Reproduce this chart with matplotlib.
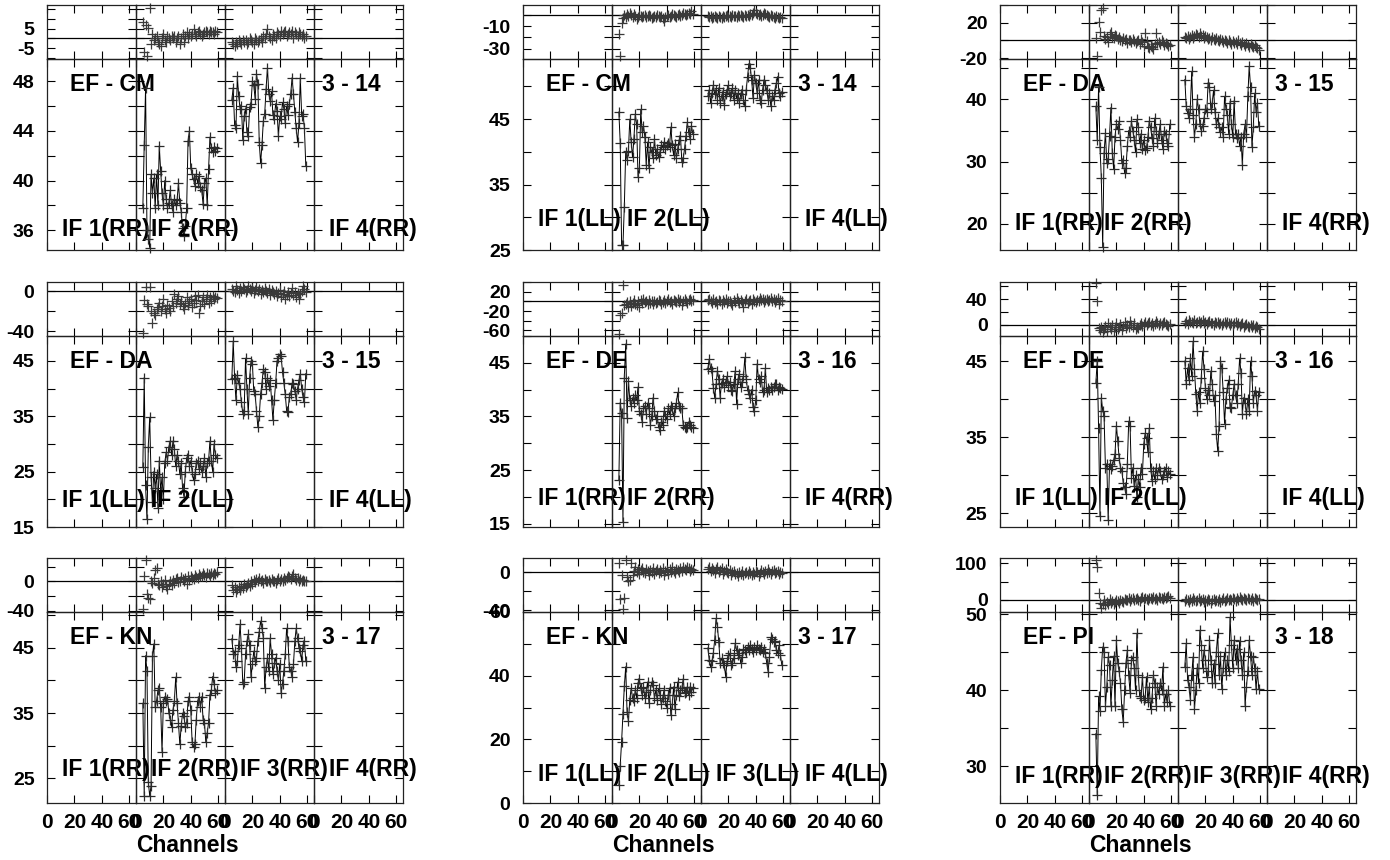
import numpy as np
import matplotlib
matplotlib.use('Agg')
import matplotlib.pyplot as plt
from matplotlib.ticker import MultipleLocator

plt.rcParams['font.family'] = 'Liberation Sans'
plt.rcParams['font.weight'] = 'bold'
plt.rcParams['axes.unicode_minus'] = False

# ---------------------------------------------------------------------
# Data: phase (deg) and amplitude per channel for IF 2 and IF 3
# (IF 1 and IF 4 carry no data). Channels start at 5 in each IF.
# ---------------------------------------------------------------------
first_chan = 5

# EF - CM (RR), scan 3 - 14
cm_rr_ph2 = [8.5, -7, 7, -9, 5.5, 15.5, -3, 2, -1, 0, 1, -2, -3, -4, 0, 2, -1, -2, 1, 0, -1, 1, 0, 1, -2, 0, 1, -3, 0, 2,
             -2, 1, 3, 0, 2, 1, 2, 5, 2, 1, 3, 4, 2, 1, 2, 3, 4, 3, 2, 4, 3, 3, 2, 4, 3]
cm_rr_ph3 = [-2, -3, -4, -2, -3, -1, -2, -3, -1, -2, -1, -3, -2, 0, -1, -2, -3, 0, -1, -2, -1, 0, -2, 1, 0, 2, 5, 1, 0, -1,
             2, 1, 0, 3, 2, 1, 4, 2, 3, 4, 1, 2, 3, 2, 4, 0, 3, 2, 1, 3, 2, 1, 2, 0, 1]
cm_rr_amp2 = [37.8, 42.9, 47.5, 36.0, 35.3, 34.6, 40.5, 39.0, 40.2, 37.8, 40.5, 38.0, 42.8, 40.8, 39.0, 38.0, 40.0, 38.5,
              37.8, 38.2, 39.2, 38.0, 37.5, 38.5, 38.0, 38.4, 39.8, 38.2, 37.5, 36.2, 35.5, 36.3, 37.8, 43.2, 44.0, 41.0,
              40.5, 40.1, 39.6, 40.5, 39.8, 40.4, 39.5, 39.2, 38.1, 39.8, 40.2, 38.0, 40.9, 43.5, 42.6, 42.3, 42.7, 42.4, 42.6]
cm_rr_amp3 = [46.5, 47.5, 44.5, 44.2, 48.4, 46.8, 45.8, 46.0, 43.3, 45.2, 45.8, 43.9, 43.6, 45.9, 46.2, 48.0, 47.7, 46.6,
              48.6, 47.8, 43.1, 41.4, 42.9, 44.8, 45.4, 47.4, 49.1, 47.0, 46.4, 47.2, 45.3, 45.0, 46.2, 45.6, 43.6, 45.2,
              45.0, 46.3, 45.8, 44.6, 46.0, 45.3, 46.2, 47.0, 48.3, 47.0, 45.5, 44.2, 43.1, 44.6, 48.3, 45.2, 45.4, 44.2, 41.2]

# EF - CM (LL), scan 3 - 14
cm_ll_ph2 = [-17, -36, -7, -3, 0, -2, 1, -1, 2, 0, -2, 1, -1, -4, -2, 0, -1, -2, -1, 0, -2, -1, 0, -1, -3, -2, -1, -2, 0, -1,
             -2, -1, -3, -5, -2, -1, 0, -2, -1, 1, 0, -1, -2, 0, 1, -1, 0, 2, 1, 0, 1, 2, 1, 3, 1]
cm_ll_ph3 = [-1, -2, -1, -3, -2, -1, -2, -3, -1, -2, -3, -1, -2, -1, 0, -2, -1, -2, 0, -1, -1, -2, 0, -1, 0, -1, -2, 0, -1, 0,
             -1, 1, 0, 2, 4, 2, 1, 0, 1, -1, 0, 2, 1, 0, -1, -2, 0, -1, -2, -3, -1, -2, -3, -2, -3]
cm_ll_amp2 = [46.1, 41.4, 25.8, 25.8, 31.6, 40.0, 38.8, 40.2, 45.0, 41.5, 39.2, 42.0, 45.8, 44.2, 36.2, 37.5, 46.5, 43.0,
              44.0, 42.3, 38.0, 41.5, 37.5, 40.8, 40.0, 39.0, 42.0, 39.5, 40.5, 39.2, 40.0, 41.0, 40.7, 41.5, 40.5, 41.0,
              41.3, 40.8, 43.8, 41.0, 39.5, 41.2, 39.0, 40.5, 41.8, 42.5, 38.5, 39.0, 40.5, 42.5, 44.5, 43.0, 42.0, 44.0, 42.8]
cm_ll_amp3 = [48.5, 49.5, 47.5, 49.0, 50.2, 48.8, 49.5, 48.0, 49.8, 47.5, 48.5, 49.2, 47.2, 48.8, 49.5, 50.2, 48.5, 49.0,
              49.8, 48.0, 49.5, 48.2, 49.0, 47.5, 48.8, 49.5, 48.0, 47.0, 49.5, 51.5, 53.5, 52.8, 51.0, 48.2, 51.8, 50.5,
              49.0, 51.0, 48.0, 47.5, 49.5, 51.0, 50.2, 49.5, 48.0, 49.0, 47.0, 48.5, 48.0, 49.5, 50.5, 51.5, 49.0, 48.5, 49.2]

# EF - DA (RR), scan 3 - 15
da_rr_ph2 = [3, -18, 21, 9, 34, 37, 5, 2, 4, -2, 7, 9, 4, 3, 6, 5, 2, 4, 1, -1, 3, 0, 2, -3, 1, 0, -2, 2, -1, -3,
             -1, 0, -4, 2, -2, -6, 8, -1, -8, -9, -6, -7, -10, -4, 8, -3, -2, -4, 0, -2, -5, -3, -4, -6, -5]
da_rr_ph3 = [4, 3, 5, 2, 4, 6, 3, 5, 7, 6, 4, 8, 5, 6, 3, 5, 4, 2, 3, 1, 4, 2, 0, 3, 1, -1, 2, 0, -2, 1,
             -1, -3, 0, -2, -4, -1, -3, -2, -4, 0, -3, -5, -2, -4, -6, -3, -5, -7, -4, -6, -8, -5, -7, -9, -11]
da_rr_amp2 = [38.9, 33.5, 42.0, 32.4, 27.4, 16.3, 31.4, 34.6, 29.8, 30.5, 34.2, 38.7, 31.4, 28.8, 34.0, 36.0, 35.2, 36.5,
              33.5, 29.8, 30.2, 28.2, 29.0, 32.5, 35.0, 34.0, 36.5, 35.0, 33.5, 31.5, 36.8, 35.5, 33.0, 34.5, 32.0, 33.5,
              31.8, 32.2, 34.0, 36.5, 35.5, 33.8, 32.5, 37.0, 35.0, 33.0, 34.5, 36.0, 33.5, 32.0, 35.0, 34.5, 33.0, 32.5, 36.0]
da_rr_amp3 = [43.2, 38.9, 37.9, 37.0, 38.5, 44.5, 37.5, 34.0, 36.0, 40.0, 38.5, 36.0, 35.0, 35.7, 37.0, 38.5, 38.0, 42.7,
              42.0, 38.4, 39.5, 41.5, 38.0, 36.0, 37.0, 35.5, 34.7, 35.5, 34.0, 40.5, 38.5, 37.5, 34.5, 39.5, 36.0, 34.0,
              39.8, 34.5, 33.8, 34.5, 32.5, 34.0, 29.5, 34.5, 36.0, 34.0, 40.5, 45.3, 42.0, 32.4, 35.5, 41.0, 38.0, 39.5, 35.7]

# EF - DA (LL), scan 3 - 15
da_ll_ph2 = [-42, -9, 4, -13, -15, 4, -20, -32, -22, -24, -18, -16, -12, -20, -15, -8, -18, -22, -14, -17, -20, -10, -15,
             -3, -12, -8, -5, -13, -10, -15, -18, -12, -6, -14, -10, -8, -16, -12, -5, -9, -4, -22, -15, -10, -6, -13, -8,
             -4, -12, -6, -10, -5, -8, -6, -7]
da_ll_ph3 = [2, 0, -1, 5, 1, -2, 3, 0, 4, 2, -1, 1, 5, 2, 0, 3, -2, 1, 4, 0, 2, -3, 1, -1, 3, 0, -2, 2, -4, 1,
             -1, -3, 0, -5, -2, 1, -6, -3, 0, -8, -4, -1, -5, -2, 3, -4, -1, -6, -2, -8, -3, 0, 5, 2, -1]
da_ll_amp2 = [25.9, 42.0, 22.5, 16.4, 29.5, 34.8, 24.0, 19.5, 25.0, 22.0, 24.5, 18.5, 27.0, 21.5, 24.0, 20.0, 26.5, 28.5,
              27.0, 29.5, 30.5, 28.0, 30.5, 29.0, 26.0, 28.0, 27.0, 24.5, 26.5, 22.0, 20.5, 25.0, 27.5, 28.0, 26.0, 27.0,
              25.0, 23.5, 24.5, 26.5, 27.0, 25.5, 26.5, 25.0, 26.0, 27.5, 24.0, 26.5, 27.0, 30.5, 27.0, 25.0, 30.0, 28.0, 27.5]
da_ll_amp3 = [41.8, 48.6, 42.0, 37.9, 42.5, 41.0, 40.0, 37.5, 35.5, 36.0, 45.5, 40.0, 35.5, 42.0, 45.0, 44.5, 39.5, 39.0,
              36.0, 33.0, 35.0, 39.0, 41.0, 43.5, 43.0, 40.0, 42.0, 40.5, 41.5, 38.0, 34.3, 38.0, 41.0, 45.0, 45.5, 46.2,
              45.8, 43.0, 41.0, 39.0, 36.0, 35.8, 38.5, 39.0, 41.0, 40.8, 39.5, 38.0, 40.0, 41.5, 42.7, 40.0, 38.5, 37.5, 42.7]

# EF - DE (RR), scan 3 - 16
de_rr_ph2 = [-67, -29, -25, 34, -8, -5, -2, -12, 0, -10, -3, 2, -6, -8, 0, -12, 3, -4, 5, -2, 0, -5, 2, -3, 0, -6, 1, -4,
             -2, 3, 0, -5, -1, 2, -3, 0, 4, -2, 1, -6, 3, 0, -2, 5, -1, 2, -8, 0, 4, 1, -3, 2, 5, 0, 3]
de_rr_ph3 = [2, 5, 0, -3, 4, -2, 1, -5, 3, 0, -6, 2, -2, 4, -4, 0, 1, -3, -8, 2, -1, 6, 0, -4, 3, -2, -12, 1, 4, -3,
             0, 2, -5, 5, 1, -2, 3, 0, 6, 2, 4, -1, 3, 5, 0, 2, 7, 1, 4, -2, 3, 6, -6, 2, 0]
de_rr_amp2 = [23.1, 37.6, 35.6, 15.4, 42.2, 48.5, 34.8, 41.7, 38.0, 37.0, 38.5, 37.5, 39.0, 38.0, 40.5, 36.0, 35.5, 34.0,
              36.5, 37.0, 35.5, 37.5, 36.5, 33.5, 35.0, 38.5, 36.0, 34.5, 35.0, 33.0, 32.5, 34.0, 33.5, 36.0, 35.0, 34.5,
              36.5, 35.5, 37.0, 36.5, 35.0, 36.5, 37.5, 39.5, 37.0, 36.5, 36.5, 33.5, 33.0, 32.8, 33.0, 34.0, 33.5, 33.0, 32.8]
de_rr_amp3 = [43.9, 45.7, 44.0, 43.5, 40.4, 38.5, 41.0, 43.5, 42.0, 38.5, 41.3, 42.0, 40.5, 41.5, 42.5, 40.8, 41.5, 40.0,
              39.8, 41.0, 43.5, 37.4, 42.0, 43.0, 40.5, 41.5, 42.5, 46.0, 42.0, 40.0, 39.2, 38.5, 40.0, 36.7, 36.1, 38.0,
              44.8, 42.0, 41.5, 42.5, 39.5, 40.0, 44.0, 39.5, 40.4, 40.0, 40.5, 40.0, 40.5, 41.0, 41.0, 40.0, 40.5, 40.4, 40.2]

# EF - DE (LL), scan 3 - 16
de_ll_ph2 = [65, 38, -5, -8, -3, -12, -6, -2, -9, 3, -4, -7, 0, -10, -3, 2, -6, -4, 1, -8, -2, 4, -5, 0, -3, 6, -1, -4,
             2, -7, -3, -5, 0, 3, -2, 1, 5, -1, 2, 4, 0, 3, -2, 1, 6, 2, 0, 3, -1, 2, 4, 1, 0, -2, 1]
de_ll_ph3 = [3, 6, 1, 8, 4, 5, 2, 7, 3, 5, 6, 2, 4, 8, 3, 5, 1, 4, 6, 2, 3, 0, 5, 2, 4, 1, 3, 0, 2, 4,
             1, 5, 2, 0, 3, -1, 2, 4, 0, 3, -2, 1, 2, -3, 0, 1, -2, -4, 0, -3, -1, -5, -2, -4, -6]
de_ll_amp2 = [42.1, 45.0, 36.2, 24.7, 40.2, 38.5, 37.8, 31.0, 31.5, 24.1, 31.5, 30.8, 31.2, 32.0, 32.8, 36.5, 34.5, 32.3,
              31.0, 30.6, 29.0, 28.4, 27.5, 31.5, 37.1, 36.5, 29.7, 31.0, 28.6, 30.0, 27.1, 29.5, 28.5, 31.0, 30.2, 34.1,
              35.5, 34.9, 33.0, 36.2, 31.0, 29.3, 30.5, 29.5, 31.0, 30.0, 31.0, 30.5, 29.5, 30.0, 30.5, 31.0, 29.8, 30.5, 30.2]
de_ll_amp3 = [45.0, 42.0, 44.1, 42.5, 45.4, 43.0, 47.6, 44.0, 40.7, 38.5, 41.0, 39.5, 42.8, 46.3, 44.0, 41.5, 40.0, 41.2,
              40.5, 43.7, 42.0, 39.8, 40.5, 35.4, 33.2, 36.5, 45.0, 44.1, 41.0, 36.8, 40.0, 41.5, 42.5, 39.0, 38.9, 40.5,
              42.0, 40.5, 39.5, 42.0, 45.4, 43.5, 38.1, 40.2, 39.5, 38.0, 40.0, 38.5, 45.0, 43.0, 39.5, 41.1, 40.5, 38.5, 41.0]

# EF - KN (RR), scan 3 - 17
kn_rr_ph2 = [-37, 8, 29, -17, -22, -24, 1, -2, 5, 15, 18, -3, -5, 0, -8, -4, 2, -6, -10, -3, 0, -5, 2, -2, 3, 5, -1, 1,
             6, 3, 0, 4, -3, 7, 2, 8, 5, 3, 9, 6, 4, 10, 7, 8, 12, 9, 6, 11, 10, 8, 12, 9, 11, 10, 13]
kn_rr_ph3 = [-5, -12, -8, -14, -10, -7, -11, -6, -9, -4, -8, -5, -2, -6, 0, -3, 2, -1, 3, 0, 4, 1, 2, -2, 3, 1, 0, 2,
             -1, 3, 0, 1, -2, 2, 4, 1, 3, 0, 5, 2, 4, 8, 6, 3, 7, 10, 5, 2, 4, 0, 3, 1, 2, 0, 1]
kn_rr_amp2 = [36.5, 22.3, 43.8, 41.5, 24.4, 22.3, 23.8, 43.8, 45.6, 35.9, 36.8, 38.5, 38.9, 36.0, 29.1, 36.5, 37.5, 36.8,
              37.2, 35.0, 34.0, 32.9, 35.5, 36.8, 40.5, 36.5, 33.5, 30.2, 33.0, 35.0, 34.5, 32.9, 33.5, 36.8, 37.5, 35.5,
              30.5, 29.8, 30.2, 34.0, 36.8, 37.5, 36.0, 37.5, 34.0, 33.5, 30.5, 32.0, 33.5, 37.8, 38.5, 40.6, 39.5, 38.0, 38.5]
kn_rr_amp3 = [46.4, 44.1, 44.5, 42.0, 43.0, 45.5, 48.6, 45.0, 39.5, 39.8, 44.0, 46.0, 47.1, 45.5, 40.5, 42.5, 44.5, 43.0,
              43.5, 46.0, 47.5, 49.1, 48.0, 46.5, 38.9, 42.0, 43.5, 41.5, 46.5, 44.0, 41.0, 42.6, 43.5, 41.5, 40.0, 42.5,
              38.0, 39.5, 41.5, 44.0, 48.0, 46.0, 42.0, 41.5, 40.5, 42.5, 46.0, 48.0, 46.5, 45.0, 44.5, 43.0, 45.5, 46.0, 43.0]

# EF - KN (LL), scan 3 - 17
kn_ll_ph2 = [9.7, -28, -3, -39, -27, 13, -5, -9, -8, 9.7, -3, 1, 5, 0, 3, -2, 2, 4, 0, -1, 3, 1, -3, 2, 0, 4, -2, 1,
             3, -1, 2, 0, 4, -3, 1, 2, -2, 3, 0, 5, 1, -1, 3, 2, 0, 4, 1, 5, 3, 2, 6, 4, 1, 3, 2]
kn_ll_ph3 = [3, 5, 1, 4, 2, -1, 3, 5, 0, 2, 4, -2, 1, 3, 0, -1, 2, -3, 0, 1, -2, -1, -4, 0, -2, 1, -3, -1, 0, -2,
             1, -1, -3, 0, -2, 1, 0, -4, -1, 2, 0, -2, 1, -1, 3, 0, -2, 1, 2, -1, 0, 1, -2, 0, -1]
kn_ll_amp2 = [5.5, 11.7, 19.2, 28.0, 36.6, 42.8, 28.5, 25.7, 32.5, 36.0, 33.0, 31.9, 35.6, 33.0, 37.8, 38.8, 36.0, 34.0,
              36.5, 33.0, 35.0, 38.0, 31.5, 35.5, 38.0, 37.0, 33.0, 35.5, 32.5, 36.0, 34.0, 31.0, 33.0, 35.5, 32.0, 30.0,
              34.0, 36.0, 27.5, 31.0, 36.5, 29.5, 34.0, 38.0, 33.5, 35.5, 36.0, 39.0, 34.5, 35.0, 36.5, 34.0, 36.5, 35.0, 36.0]
kn_ll_amp3 = [48.7, 45.0, 42.8, 44.5, 47.1, 51.2, 58.0, 55.3, 50.5, 44.0, 45.5, 44.0, 43.5, 39.7, 44.5, 46.5, 47.0, 43.5,
              44.0, 45.5, 50.2, 48.0, 46.5, 47.0, 44.0, 46.0, 48.5, 48.0, 47.5, 49.0, 48.0, 49.5, 48.5, 47.5, 49.0, 48.0,
              49.5, 48.5, 48.0, 49.0, 47.5, 48.5, 47.0, 44.0, 41.3, 46.0, 52.0, 51.5, 50.5, 51.0, 48.0, 47.0, 49.5, 46.5, 43.4]

# EF - PI (RR), scan 3 - 18
pi_rr_ph2 = [108, 89, 19, -8, -22, -11, 0, -15, -5, -12, 2, -8, -3, -10, -6, 0, -4, -9, 1, -2, -7, 3, -1, 0, 4, -3, 2,
             5, 0, 3, 6, 1, -2, 4, 8, 2, 5, 3, 0, 6, 4, 2, 7, 3, 5, 1, 8, 4, 6, 2, 9, 5, 7, 10, 6]
pi_rr_ph3 = [-2, 3, 0, -5, 2, -3, 4, 0, -4, 1, 5, -2, 0, 3, -6, 1, -3, 2, -1, -8, 0, 3, -4, 1, -2, 2, -5, 0, 4, -3,
             1, 5, -1, 3, 0, 6, 2, -2, 4, 1, 7, 3, -1, 5, 2, 0, 6, 3, 1, 4, -2, 5, 2, 0, 3]
pi_rr_amp2 = [34.3, 26.2, 39.2, 37.3, 42.7, 45.7, 45.0, 37.9, 40.5, 44.4, 43.4, 38.0, 41.4, 44.5, 37.9, 46.6, 43.6, 42.5,
              41.0, 37.5, 35.8, 40.0, 43.6, 45.3, 42.0, 39.7, 44.0, 44.4, 43.0, 40.0, 47.5, 42.0, 39.2, 39.0, 41.8, 38.8,
              39.0, 41.8, 38.5, 40.5, 37.5, 39.0, 42.0, 41.0, 38.0, 40.5, 39.5, 41.0, 40.0, 43.1, 38.0, 39.5, 38.5, 40.0, 38.0]
pi_rr_amp3 = [43.1, 46.2, 41.4, 40.5, 38.8, 42.0, 44.4, 37.5, 40.0, 43.0, 41.0, 47.9, 46.0, 43.0, 45.3, 44.0, 41.8, 42.5,
              46.6, 44.0, 41.0, 43.5, 41.0, 45.0, 47.5, 42.0, 44.5, 40.2, 43.0, 45.0, 42.0, 44.0, 42.5, 49.6, 46.0, 43.0,
              46.6, 44.0, 45.5, 43.0, 46.5, 44.0, 42.0, 45.0, 38.0, 40.5, 42.5, 46.6, 44.5, 42.0, 44.4, 43.0, 40.2, 42.5, 40.2]

# panel order: row by row, left to right
baselines = ['EF - CM', 'EF - CM', 'EF - DA', 'EF - DA', 'EF - DE', 'EF - DE', 'EF - KN', 'EF - KN', 'EF - PI']
pols = ['RR', 'LL', 'RR', 'LL', 'RR', 'LL', 'RR', 'LL', 'RR']
scans = ['3 - 14', '3 - 14', '3 - 15', '3 - 15', '3 - 16', '3 - 16', '3 - 17', '3 - 17', '3 - 18']
phase_data = [(cm_rr_ph2, cm_rr_ph3), (cm_ll_ph2, cm_ll_ph3), (da_rr_ph2, da_rr_ph3),
              (da_ll_ph2, da_ll_ph3), (de_rr_ph2, de_rr_ph3), (de_ll_ph2, de_ll_ph3),
              (kn_rr_ph2, kn_rr_ph3), (kn_ll_ph2, kn_ll_ph3), (pi_rr_ph2, pi_rr_ph3)]
amp_data = [(cm_rr_amp2, cm_rr_amp3), (cm_ll_amp2, cm_ll_amp3), (da_rr_amp2, da_rr_amp3),
            (da_ll_amp2, da_ll_amp3), (de_rr_amp2, de_rr_amp3), (de_ll_amp2, de_ll_amp3),
            (kn_rr_amp2, kn_rr_amp3), (kn_ll_amp2, kn_ll_amp3), (pi_rr_amp2, pi_rr_amp3)]

# axis ranges and labelled ticks per panel
phase_lims = [(-10.5, 17), (-39, 8.7), (-21, 40), (-45, 9), (-71.6, 40), (-17.6, 67),
              (-41.4, 31.7), (-42, 15), (-33, 114)]
phase_ticks = [[-5, 5], [-30, -10], [-20, 20], [-40, 0], [-60, -20, 20], [0, 40],
               [-40, 0], [-40, 0], [0, 100]]
phase_minor = [5, 10, 20, 20, 20, 20, 20, 20, 50]
amp_lims = [(34.4, 49.8), (25, 54.2), (15.8, 46.5), (15, 49.5), (14.4, 50), (23.2, 48.3),
            (21.2, 50.5), (0, 60), (25.2, 50.3)]
amp_ticks = [[36, 40, 44, 48], [25, 35, 45], [20, 30, 40], [15, 25, 35, 45], [15, 25, 35, 45],
             [25, 35, 45], [25, 35, 45], [0, 20, 40, 60], [30, 40, 50]]
amp_minor = [2, 5, 5, 5, 5, 5, 5, 10, 5]
if_label_y = [0.105, 0.16, 0.137, 0.14, 0.15, 0.15, 0.176, 0.15, 0.14]

# ---------------------------------------------------------------------
# Layout (pixels)
# ---------------------------------------------------------------------
W, H = 1390, 860
col_left = [47, 523, 1000]
row_top = [5, 282, 558]
if_w = 89
ph_h, amp_h = 54, 191
tick_fs = 14
text_fs = 16.5

fig = plt.figure(figsize=(W / 100, H / 100), dpi=100)
fig.patch.set_facecolor('white')


def px_axes(x, y, w, h):
    return fig.add_axes([x / W, 1 - (y + h) / H, w / W, h / H])


def style(ax, xlabels, ylabels):
    ax.set_facecolor('none')
    ax.set_xlim(0, 65)
    ax.set_xticks([0, 20, 40, 60])
    ax.tick_params(which='both', direction='in', top=True, right=True, length=6, width=0.8,
                   labelsize=tick_fs, pad=9)
    ax.tick_params(axis='x', pad=7, labelsize=15)
    if not xlabels:
        ax.set_xticklabels([])
    if not ylabels:
        ax.set_yticklabels([])
    for s in ax.spines.values():
        s.set_linewidth(0.9)
        s.set_color('#222222')


for p in range(9):
    r, c = divmod(p, 3)
    L, T = col_left[c], row_top[r]
    for k in range(4):
        ax_ph = px_axes(L + k * if_w, T, if_w, ph_h)
        ax_amp = px_axes(L + k * if_w, T + ph_h, if_w, amp_h)

        ax_ph.set_ylim(*phase_lims[p])
        ax_ph.set_yticks(phase_ticks[p])
        ax_ph.yaxis.set_minor_locator(MultipleLocator(phase_minor[p]))
        ax_ph.axhline(0, color='black', lw=0.9)
        style(ax_ph, False, k == 0)

        ax_amp.set_ylim(*amp_lims[p])
        ax_amp.set_yticks(amp_ticks[p])
        ax_amp.yaxis.set_minor_locator(MultipleLocator(amp_minor[p]))
        style(ax_amp, r == 2, k == 0)

        if k in (1, 2):
            ph = phase_data[p][k - 1]
            amp = amp_data[p][k - 1]
            ch_ph = np.arange(first_chan, first_chan + len(ph))
            ch_amp = np.arange(first_chan, first_chan + len(amp))
            ax_ph.plot(ch_ph, ph, '+', color='#3a3a3a', ms=7, mew=0.9, clip_on=False)
            ax_amp.plot(ch_amp, amp, '-', color='black', lw=0.7, marker='+', ms=7, mew=0.9,
                        mec='#2a2a2a', clip_on=False)

        if k != 2 or r == 2:
            ax_amp.text(0.17, if_label_y[p], f'IF {k + 1}({pols[p]})', transform=ax_amp.transAxes,
                        fontsize=text_fs, fontweight='bold', ha='left', va='center', clip_on=False)
        if k == 0:
            ax_amp.text(0.26, 0.865, baselines[p], transform=ax_amp.transAxes, fontsize=text_fs,
                        fontweight='bold', ha='left', va='center', clip_on=False)
        if k == 3:
            ax_amp.text(0.09, 0.865, scans[p], transform=ax_amp.transAxes, fontsize=text_fs,
                        fontweight='bold', ha='left', va='center', clip_on=False)

    if r == 2:
        fig.text((L + 140) / W, 1 - 846 / H, 'Channels', fontsize=text_fs, fontweight='bold',
                 ha='center', va='center')

fig.savefig('out.png', dpi=100, facecolor='white')
